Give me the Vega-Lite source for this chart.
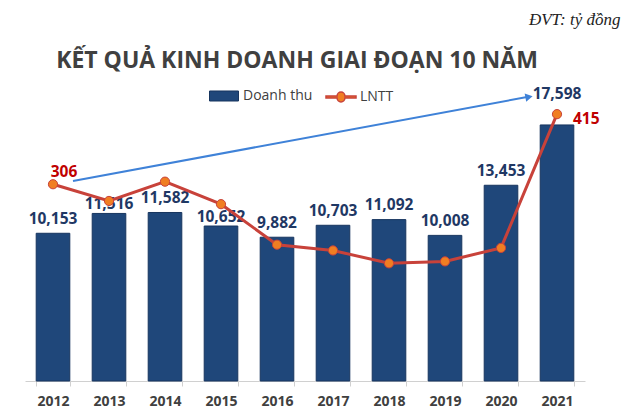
{
  "$schema": "https://vega.github.io/schema/vega-lite/v6.json",
  "autosize": {"type": "none"},
  "width": 560,
  "height": 281,
  "padding": {"left": 25, "top": 100, "right": 45, "bottom": 39},
  "background": "white",
  "title": {
    "text": "KẾT QUẢ KINH DOANH GIAI ĐOẠN 10 NĂM",
    "font": "Open Sans",
    "fontSize": 23,
    "fontWeight": "bold",
    "color": "#404040",
    "anchor": "middle",
    "frame": "group",
    "dx": -8,
    "dy": 67
  },
  "datasets": {
    "main": [
      {"year": "2012", "revenue": 10153, "profit": 306},
      {"year": "2013", "revenue": 11516, "profit": 280},
      {"year": "2014", "revenue": 11582, "profit": 310},
      {"year": "2015", "revenue": 10652, "profit": 275},
      {"year": "2016", "revenue": 9882, "profit": 212},
      {"year": "2017", "revenue": 10703, "profit": 203},
      {"year": "2018", "revenue": 11092, "profit": 183},
      {"year": "2019", "revenue": 10008, "profit": 186},
      {"year": "2020", "revenue": 13453, "profit": 207},
      {"year": "2021", "revenue": 17598, "profit": 415}
    ],
    "arrow": [
      {"from": "2012", "to": "2021", "start": 13746, "end": 19519}
    ]
  },
  "data": {"name": "main"},
  "encoding": {
    "x": {
      "field": "year",
      "type": "ordinal",
      "sort": null,
      "scale": {"paddingInner": 0.4, "paddingOuter": 0.2},
      "axis": {
        "title": null,
        "labelAngle": 0,
        "labelFont": "Open Sans",
        "labelFontSize": 14,
        "labelFontWeight": "bold",
        "labelColor": "#404040",
        "labelPadding": 8,
        "domainColor": "#D0D0D0",
        "tickColor": "#D0D0D0",
        "tickSize": 5,
        "tickBand": "extent",
        "grid": false
      }
    }
  },
  "layer": [
    {
      "layer": [
        {
          "mark": {"type": "bar", "stroke": "#17355F", "strokeWidth": 1},
          "encoding": {
            "y": {
              "field": "revenue",
              "type": "quantitative",
              "scale": {"domain": [0, 19313], "nice": false, "zero": true},
              "axis": null
            },
            "color": {
              "datum": "Doanh thu",
              "type": "nominal",
              "scale": {"domain": ["Doanh thu"], "range": ["#1F477A"]},
              "legend": {
                "orient": "none",
                "legendX": 184,
                "legendY": -19,
                "direction": "horizontal",
                "title": null,
                "labelFont": "Open Sans",
                "labelFontSize": 14,
                "labelColor": "#404040",
                "labelOffset": 4,
                "symbolType": "M-1,-0.345H1V0.345H-1Z",
                "symbolSize": 841,
                "symbolStrokeColor": "#17355F",
                "symbolStrokeWidth": 1
              }
            }
          }
        },
        {
          "transform": [{"filter": "datum.year !== '2013' && datum.year !== '2015' && datum.year !== '2021'"}],
          "mark": {"type": "text", "font": "Open Sans", "fontSize": 15.5, "fontWeight": "bold", "color": "#1F3864", "baseline": "alphabetic", "dy": -9.5},
          "encoding": {
            "y": {"field": "revenue", "type": "quantitative"},
            "text": {"field": "revenue", "type": "quantitative", "format": ","}
          }
        },
        {
          "transform": [{"filter": "datum.year === '2013' || datum.year === '2015'"}],
          "mark": {"type": "text", "font": "Open Sans", "fontSize": 15.5, "fontWeight": "bold", "color": "#1F3864", "baseline": "alphabetic", "dy": -4.5},
          "encoding": {
            "y": {"field": "revenue", "type": "quantitative"},
            "text": {"field": "revenue", "type": "quantitative", "format": ","}
          }
        },
        {
          "transform": [{"filter": "datum.year === '2021'"}],
          "mark": {"type": "text", "font": "Open Sans", "fontSize": 15.5, "fontWeight": "bold", "color": "#1F3864", "baseline": "alphabetic", "dy": -26},
          "encoding": {
            "y": {"field": "revenue", "type": "quantitative"},
            "text": {"field": "revenue", "type": "quantitative", "format": ","}
          }
        },
        {
          "data": {"name": "arrow"},
          "mark": {"type": "rule", "color": "#3F82D8", "strokeWidth": 2, "xOffset": 20, "x2Offset": -30},
          "encoding": {
            "x": {"field": "from", "type": "ordinal"},
            "x2": {"field": "to"},
            "y": {"field": "start", "type": "quantitative"},
            "y2": {"field": "end"}
          }
        },
        {
          "data": {"name": "arrow"},
          "mark": {"type": "point", "shape": "triangle-right", "filled": true, "color": "#3F82D8", "opacity": 1, "size": 70, "angle": -10.3, "xOffset": -28, "yOffset": 0},
          "encoding": {
            "x": {"field": "to", "type": "ordinal"},
            "y": {"field": "end", "type": "quantitative"}
          }
        }
      ]
    },
    {
      "layer": [
        {
          "mark": {"type": "line", "strokeWidth": 3},
          "encoding": {
            "y": {
              "field": "profit",
              "type": "quantitative",
              "scale": {"domain": [0, 437], "nice": false, "zero": true},
              "axis": {
                "orient": "right",
                "domain": false,
                "labels": false,
                "ticks": false,
                "grid": false,
                "title": "ĐVT: tỷ đồng",
                "titleAngle": 0,
                "titleFont": "Liberation Serif",
                "titleFontStyle": "italic",
                "titleFontWeight": "normal",
                "titleFontSize": 17,
                "titleColor": "#222222",
                "titleAlign": "right",
                "titleBaseline": "alphabetic",
                "titleX": 35,
                "titleY": -76
              }
            },
            "stroke": {
              "datum": "LNTT",
              "type": "nominal",
              "scale": {"domain": ["LNTT"], "range": ["#C8423A"]},
              "legend": {
                "orient": "none",
                "legendX": 300,
                "legendY": -19,
                "direction": "horizontal",
                "title": null,
                "labelFont": "Open Sans",
                "labelFontSize": 14,
                "labelColor": "#404040",
                "labelOffset": 3,
                "symbolType": "M-1,-0.07H-0.26A0.26,0.26 0 0,1 0.26,-0.07H1V0.07H0.26A0.26,0.26 0 0,1 -0.26,0.07H-1Z",
                "symbolSize": 900,
                "symbolFillColor": "#F07E22",
                "symbolStrokeWidth": 1.5
              }
            }
          }
        },
        {
          "mark": {"type": "point", "shape": "circle", "filled": true, "fill": "#F07E22", "stroke": "#C8423A", "strokeWidth": 1, "size": 85, "opacity": 1},
          "encoding": {
            "y": {"field": "profit", "type": "quantitative"}
          }
        },
        {
          "transform": [{"filter": "datum.year === '2012'"}],
          "mark": {"type": "text", "font": "Open Sans", "fontSize": 15.5, "fontWeight": "bold", "color": "#C00000", "align": "center", "baseline": "middle", "dx": 11, "dy": -12},
          "encoding": {
            "y": {"field": "profit", "type": "quantitative"},
            "text": {"field": "profit", "type": "quantitative"}
          }
        },
        {
          "transform": [{"filter": "datum.year === '2021'"}],
          "mark": {"type": "text", "font": "Open Sans", "fontSize": 15.5, "fontWeight": "bold", "color": "#C00000", "align": "left", "baseline": "middle", "dx": 16, "dy": 5},
          "encoding": {
            "y": {"field": "profit", "type": "quantitative"},
            "text": {"field": "profit", "type": "quantitative"}
          }
        }
      ]
    }
  ],
  "resolve": {"scale": {"y": "independent"}},
  "config": {
    "view": {"stroke": null}
  }
}
